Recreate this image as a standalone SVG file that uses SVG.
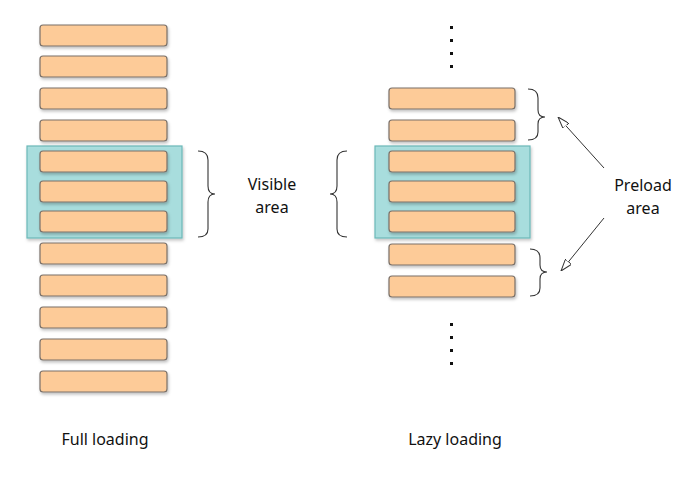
<svg xmlns="http://www.w3.org/2000/svg" width="693" height="481" viewBox="0 0 693 481">
<style>
.bar{fill:#fdcb98;stroke:#7a7068;stroke-width:1.2}
.vis{fill:#9fdcdc;fill-opacity:0.85;stroke:#6bb8b8;stroke-width:1.2}
.br{fill:none;stroke:#333;stroke-width:1.1}
.ln{stroke:#333;stroke-width:1;marker-end:url(#ah)}
text{font-family:"Noto Sans","Open Sans",sans-serif;font-size:16px;fill:#111;text-anchor:middle}
.dot{fill:#111}
</style>
<defs>
<marker id="ah" viewBox="0 0 12 8" refX="12" refY="4" markerWidth="12" markerHeight="8" orient="auto" markerUnits="userSpaceOnUse"><path d="M0,0L12,4L0,8Z" fill="#fff" stroke="#333" stroke-width="1"/></marker>
<filter id="sh" x="-10%" y="-30%" width="120%" height="180%"><feDropShadow dx="1" dy="2" stdDeviation="1.5" flood-color="#000" flood-opacity="0.25"/></filter>
</defs>
<g id="full">
<rect class="vis" x="27" y="146" width="155" height="92" filter="url(#sh)"/>
<g filter="url(#sh)">
<rect class="bar" x="40" y="25" width="127" height="21" rx="3"/>
<rect class="bar" x="40" y="56" width="127" height="21" rx="3"/>
<rect class="bar" x="40" y="88" width="127" height="21" rx="3"/>
<rect class="bar" x="40" y="120" width="127" height="21" rx="3"/>
<rect class="bar" x="40" y="151" width="127" height="21" rx="3"/>
<rect class="bar" x="40" y="181" width="127" height="21" rx="3"/>
<rect class="bar" x="40" y="211" width="127" height="21" rx="3"/>
<rect class="bar" x="40" y="243" width="127" height="21" rx="3"/>
<rect class="bar" x="40" y="275" width="127" height="21" rx="3"/>
<rect class="bar" x="40" y="307" width="127" height="21" rx="3"/>
<rect class="bar" x="40" y="339" width="127" height="21" rx="3"/>
<rect class="bar" x="40" y="371" width="127" height="21" rx="3"/>
</g>
<text x="105" y="445">Full loading</text>
</g>
<g id="lazy">
<rect class="vis" x="375" y="146" width="155" height="92" filter="url(#sh)"/>
<g filter="url(#sh)">
<rect class="bar" x="389" y="88" width="126" height="21" rx="3"/>
<rect class="bar" x="389" y="120" width="126" height="21" rx="3"/>
<rect class="bar" x="389" y="151" width="126" height="21" rx="3"/>
<rect class="bar" x="389" y="181" width="126" height="21" rx="3"/>
<rect class="bar" x="389" y="211" width="126" height="21" rx="3"/>
<rect class="bar" x="389" y="244" width="126" height="21" rx="3"/>
<rect class="bar" x="389" y="276" width="126" height="21" rx="3"/>
</g>
<g class="dot">
<rect x="450" y="26" width="3" height="3"/><rect x="450" y="39" width="3" height="3"/><rect x="450" y="52" width="3" height="3"/><rect x="450" y="65" width="3" height="3"/>
<rect x="450" y="323" width="3" height="3"/><rect x="450" y="336" width="3" height="3"/><rect x="450" y="349" width="3" height="3"/><rect x="450" y="362" width="3" height="3"/>
</g>
<text x="455" y="445">Lazy loading</text>
</g>
<g id="visible-label">
<text x="272" y="190">Visible</text>
<text x="272" y="213">area</text>
</g>
<g id="preload-label">
<text x="643" y="191">Preload</text>
<text x="643" y="214">area</text>
</g>
<g id="connectors">
<path class="br" d="M198,151 Q208,151 208,160 L208,186 Q208,194 215,194 Q208,194 208,202 L208,229 Q208,237 198,237"/>
<path class="br" d="M347,151 Q337,151 337,160 L337,186 Q337,194 330,194 Q337,194 337,202 L337,229 Q337,237 347,237"/>
<path class="br" d="M528,89 Q538,89 538,98 L538,110 Q538,117 545,117 Q538,117 538,124 L538,132 Q538,140 528,140"/>
<path class="br" d="M530,249 Q540,249 540,258 L540,265 Q540,272 547,272 Q540,272 540,279 L540,288 Q540,296 530,296"/>
<line class="ln" x1="604" y1="168" x2="558" y2="117"/>
<line class="ln" x1="604" y1="218" x2="561" y2="271"/>
</g>
</svg>
